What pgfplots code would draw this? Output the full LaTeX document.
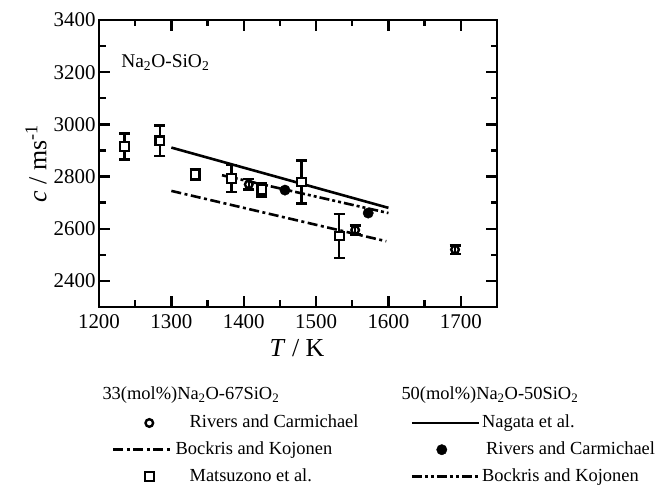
\documentclass[border=0pt]{standalone}
\usepackage{fontspec}
\setmainfont{Liberation Serif}
\usepackage{pgfplots}
\pgfplotsset{compat=1.18}
\pgfplotsset{
  Lline/.style={legend image code/.code={\draw[##1] (0bp,0bp) -- (59bp,0bp);}},
  Lmark/.style={legend image code/.code={\draw[##1] plot coordinates {(36bp,0bp)};}},
  Rline/.style={legend image code/.code={\draw[##1] (0bp,0bp) -- (67bp,0bp);}},
  Rmark/.style={legend image code/.code={\draw[##1] plot coordinates {(30bp,0bp)};}},
  solidline/.style={black, line width=2.6bp},
  dd/.style={black, line width=2.6bp, dash pattern=on 10bp off 3bp on 3bp off 3bp on 3bp off 3bp},
  dashdot/.style={black, line width=2.6bp, dash pattern=on 10bp off 3.5bp on 3bp off 3.5bp},
  opencirc/.style={black, only marks, mark=o, mark size=3.8bp, mark options={line width=2.4bp, fill=white, solid}},
  opensq/.style={black, only marks, mark=square*, mark size=4.3bp, mark options={line width=2.1bp, fill=white, solid}},
  filledcirc/.style={black, only marks, mark=*, mark size=5.2bp, mark options={solid}},
  errs/.style={error bars/.cd, y dir=both, y explicit,
    error bar style={line width=2.5bp, black},
    error mark options={rotate=90, mark size=5.5bp, line width=2.5bp, black},
    /pgfplots/.cd},
}
\begin{document}
\begin{tikzpicture}
\useasboundingbox (0,0) rectangle (664bp,486bp);
\begin{axis}[
  at={(99bp,179bp)}, anchor=south west,
  scale only axis, width=398bp, height=287bp,
  xmin=1200, xmax=1750, ymin=2300, ymax=3400,
  xtick={1200,1300,...,1700},
  minor xtick={1250,1350,...,1750},
  ytick={2400,2600,...,3400},
  minor ytick={2300,2500,...,3300},
  tick align=inside,
  major tick length=11bp, minor tick length=6.5bp,
  axis line style={line width=2.8bp},
  every tick/.append style={line width=2.3bp, black},
  scaled ticks=false,
  /pgf/number format/1000 sep={},
  /pgf/number format/assume math mode=true,
  tick label style={font=\fontsize{21}{25}\selectfont},
  xticklabel style={yshift=-4bp},
  xlabel={\textit{T} / K},
  ylabel={\textit{c} / ms\textsuperscript{-1}},
  label style={font=\fontsize{26}{31}\selectfont},
  xlabel style={at={(axis description cs:0.4975,-0.171)}, anchor=base},
  ylabel style={at={(axis description cs:-0.158,0.5)}, anchor=center},
  legend columns=2,
  legend cell align=left,
  legend style={at={(axis description cs:0.0327,-0.3728)}, anchor=north west,
    draw=none, fill=none, inner sep=0pt, outer sep=0pt,
    font=\fontsize{18.5}{22}\selectfont, row sep=8.7bp,
    nodes={inner sep=0pt, text height=14bp, text depth=4bp},
    /tikz/every odd column/.append style={column sep=2bp},
    /tikz/every even column/.append style={column sep=52bp}},
]
% Nagata et al. (50 mol%)
\addplot[solidline, forget plot] coordinates {(1300,2911) (1600,2680)};
% Bockris and Kojonen (50 mol%)
\addplot[dd, forget plot] coordinates {(1370,2805) (1600,2660)};
% Bockris and Kojonen (33 mol%)
\addplot[dashdot, forget plot] coordinates {(1300,2745) (1597,2552)};
% Matsuzono et al. (33 mol%)
\addplot[opensq, errs, forget plot] coordinates {
  (1235,2915) +- (0,50)
  (1284,2937) +- (0,58)
  (1333,2807) +- (0,21)
  (1383,2792) +- (0,52)
  (1425,2750) +- (0,26)
  (1480,2779) +- (0,82)
  (1532,2572) +- (0,85)
};
% Rivers and Carmichael (33 mol%)
\addplot[opencirc, errs, forget plot] coordinates {
  (1407,2770) +- (0,20)
  (1554,2595) +- (0,18)
  (1692,2520) +- (0,16)
};
% Rivers and Carmichael (50 mol%)
\addplot[filledcirc, forget plot] coordinates {(1457,2748) (1572,2660)};

\node[anchor=west, font=\fontsize{19.5}{23}\selectfont] at (axis cs:1226,3237) {Na\textsubscript{2}O-SiO\textsubscript{2}};

\addlegendimage{opencirc, Lmark}
\addlegendentry{\hspace*{14bp}Rivers and Carmichael}
\addlegendimage{solidline, Rline}
\addlegendentry{Nagata et al.}
\addlegendimage{dashdot, Lline}
\addlegendentry{Bockris and Kojonen}
\addlegendimage{filledcirc, Rmark}
\addlegendentry{\hspace*{4bp}Rivers and Carmichael}
\addlegendimage{opensq, Lmark}
\addlegendentry{\hspace*{14bp}Matsuzono et al.}
\addlegendimage{dd, Rline}
\addlegendentry{Bockris and Kojonen}
\end{axis}
\node[anchor=base west, font=\fontsize{18.5}{22}\selectfont] at (99bp,86bp) {33(mol\%)Na\textsubscript{2}O-67SiO\textsubscript{2}};
\node[anchor=base west, font=\fontsize{18.5}{22}\selectfont] at (398bp,86bp) {50(mol\%)Na\textsubscript{2}O-50SiO\textsubscript{2}};
\end{tikzpicture}
\end{document}
